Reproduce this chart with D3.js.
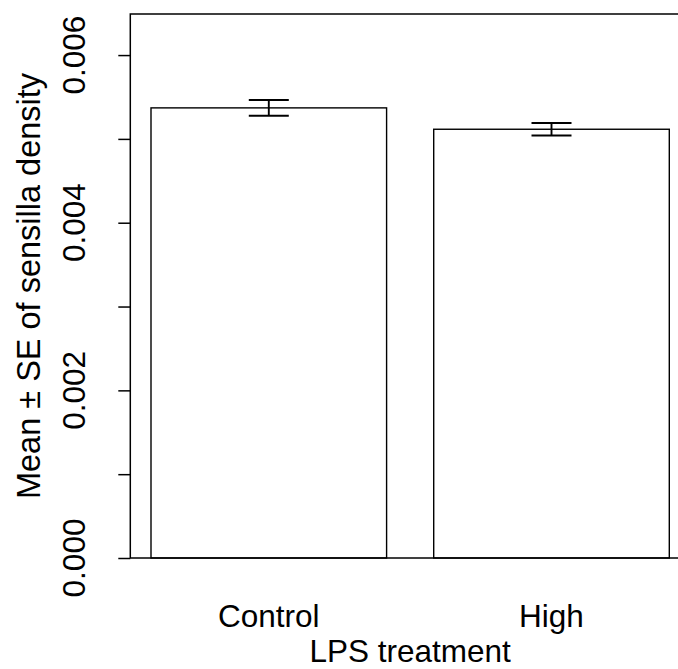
<!DOCTYPE html>
<html>
<head>
<meta charset="utf-8">
<script src="https://cdn.jsdelivr.net/npm/d3@7"></script>
<style>
  html, body { margin: 0; padding: 0; background: #fff; }
  svg { display: block; }
  text { font-family: "Liberation Sans", Arial, Helvetica, sans-serif; fill: #000; }
</style>
</head>
<body>
<svg id="chart" width="678" height="669"></svg>
<script>
const categories = ["Control", "High"];
const means = [0.00537, 0.005115];
const se = [0.0000935, 0.000074];
const yTicks = [0, 0.001, 0.002, 0.003, 0.004, 0.005, 0.006];
const yTickLabels = ["0.000", "0.002", "0.004", "0.006"];
const yLabelValues = [0, 0.002, 0.004, 0.006];
const xTitle = "LPS treatment";
const yTitle = "Mean \u00B1 SE of sensilla density";

const svg = d3.select("#chart");
const plot = { left: 130.3, right: 690, top: 14, bottom: 558 };
const fontSize = 31.5;

const y = d3.scaleLinear().domain([0, 0.00649]).range([plot.bottom, plot.top]);
const x = d3.scaleBand().domain(categories).range([151, 669.3]).paddingInner(0.2 / 1.2).paddingOuter(0);

// bars
svg.append("g").selectAll("rect").data(categories).join("rect")
  .attr("x", d => x(d))
  .attr("y", (d, i) => y(means[i]))
  .attr("width", x.bandwidth())
  .attr("height", (d, i) => y(0) - y(means[i]))
  .attr("fill", "#fff")
  .attr("stroke", "#000")
  .attr("stroke-width", 1.4);

// error bars
const capHalf = 20;
const eg = svg.append("g").attr("stroke", "#000").attr("stroke-width", 1.9).attr("fill", "none");
categories.forEach((c, i) => {
  const cx = x(c) + x.bandwidth() / 2;
  const y1 = y(means[i] + se[i]), y2 = y(means[i] - se[i]);
  eg.append("line").attr("x1", cx).attr("x2", cx).attr("y1", y1).attr("y2", y2);
  eg.append("line").attr("x1", cx - capHalf).attr("x2", cx + capHalf).attr("y1", y1).attr("y2", y1);
  eg.append("line").attr("x1", cx - capHalf).attr("x2", cx + capHalf).attr("y1", y2).attr("y2", y2);
});

// box
svg.append("rect")
  .attr("x", plot.left).attr("y", plot.top)
  .attr("width", plot.right - plot.left).attr("height", plot.bottom - plot.top)
  .attr("fill", "none").attr("stroke", "#000").attr("stroke-width", 1.5);

// y axis ticks
const yAxis = d3.axisLeft(y).tickValues(yTicks).tickSize(12).tickFormat("");
const ga = svg.append("g").attr("transform", `translate(${plot.left},0)`).call(yAxis);
ga.select(".domain").remove();
ga.selectAll(".tick line").attr("stroke", "#000").attr("stroke-width", 1.5);

// y tick labels
svg.append("g").selectAll("text").data(yLabelValues).join("text")
  .attr("transform", d => `translate(85,${y(d)}) rotate(-90)`)
  .attr("text-anchor", "middle")
  .attr("font-size", fontSize)
  .text((d, i) => yTickLabels[i]);

// x category labels
svg.append("g").selectAll("text").data(categories).join("text")
  .attr("x", d => x(d) + x.bandwidth() / 2)
  .attr("y", 627)
  .attr("text-anchor", "middle")
  .attr("font-size", fontSize)
  .text(d => d);

// titles
svg.append("text")
  .attr("x", (plot.left + plot.right) / 2)
  .attr("y", 662)
  .attr("text-anchor", "middle")
  .attr("font-size", fontSize)
  .text(xTitle);

svg.append("text")
  .attr("transform", `translate(40,${(plot.top + plot.bottom) / 2}) rotate(-90)`)
  .attr("text-anchor", "middle")
  .attr("font-size", 32.5)
  .text(yTitle);
</script>
</body>
</html>
